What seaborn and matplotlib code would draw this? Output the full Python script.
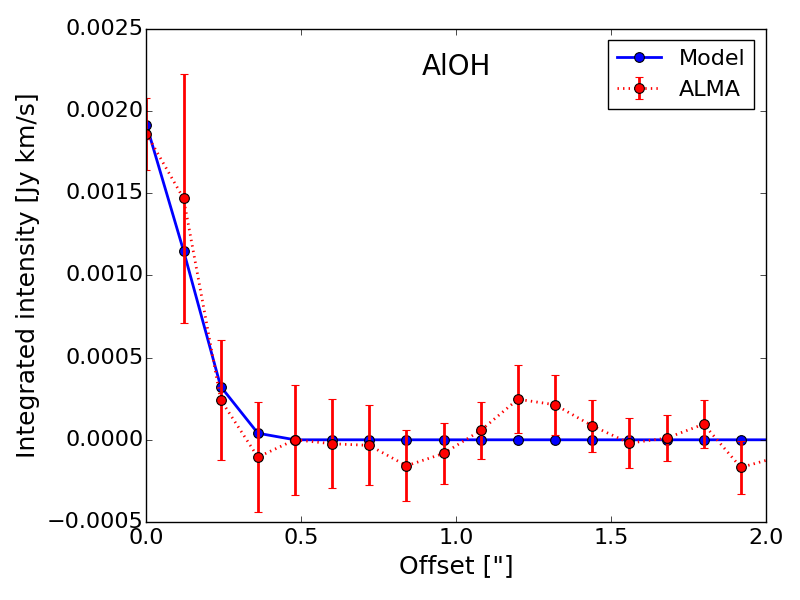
import numpy as np
import pandas as pd
import matplotlib
matplotlib.use("Agg")
import matplotlib.pyplot as plt
import seaborn as sns

# offsets in arcsec
offset = [0.00, 0.12, 0.24, 0.36, 0.48, 0.60, 0.72, 0.84, 0.96, 1.08,
          1.20, 1.32, 1.44, 1.56, 1.68, 1.80, 1.92, 2.04]
model = [0.001917, 0.00115, 0.000324, 0.00004, 0.0, 0.0, 0.0, 0.0, 0.0, 0.0,
         0.0, 0.0, 0.0, 0.0, 0.0, 0.0, 0.0, 0.0]
alma = [0.001862, 0.001468, 0.000243, -0.000105, 0.0, -0.000024, -0.000034,
        -0.000158, -0.000083, 0.000057, 0.000247, 0.000213, 0.000085,
        -0.00002, 0.00001, 0.000095, -0.000168, -0.000105]
alma_err = [0.00022, 0.00076, 0.000365, 0.000334, 0.000336, 0.00027, 0.000243,
            0.000216, 0.000184, 0.000175, 0.000208, 0.000183, 0.000158,
            0.00015, 0.00014, 0.000147, 0.00016, 0.00016]
ytick_vals = [-0.0005, 0.0, 0.0005, 0.0010, 0.0015, 0.0020, 0.0025]
ytick_labels = ['\u22120.0005', '0.0000', '0.0005', '0.0010', '0.0015',
                '0.0020', '0.0025']

plt.style.use('classic')
plt.rcParams['font.family'] = ['DejaVu Sans']

df = pd.DataFrame({'offset': offset, 'model': model, 'alma': alma, 'err': alma_err})

fig, ax = plt.subplots(figsize=(8, 6), dpi=100)
fig.patch.set_facecolor('white')

sns.lineplot(data=df, x='offset', y='model', ax=ax, color='blue', lw=2,
             marker='o', markersize=7, markeredgecolor='black',
             markeredgewidth=0.8, label='Model')
ax.errorbar(df['offset'], df['alma'], yerr=df['err'], fmt='o:', color='red',
            ecolor='red', elinewidth=2, capsize=3, lw=2, markersize=7,
            markeredgecolor='black', markeredgewidth=0.8, label='ALMA')

ax.text(1.0, 0.00227, 'AlOH', fontsize=20, ha='center', va='center')

ax.set_xlim(0, 2.0)
ax.set_ylim(-0.0005, 0.0025)
ax.set_xticks([0.0, 0.5, 1.0, 1.5, 2.0])
ax.set_yticks(ytick_vals)
ax.set_yticklabels(ytick_labels)
ax.tick_params(labelsize=16)
ax.tick_params(axis='y', pad=2)
ax.set_xlabel('Offset ["]', fontsize=18)
ax.set_ylabel('Integrated intensity [Jy km/s]', fontsize=18)
ax.legend(loc='upper right', numpoints=1, fontsize=16)

fig.subplots_adjust(left=0.183, right=0.957, bottom=0.13, top=0.952)
fig.savefig('out.png', dpi=100, facecolor='white')
